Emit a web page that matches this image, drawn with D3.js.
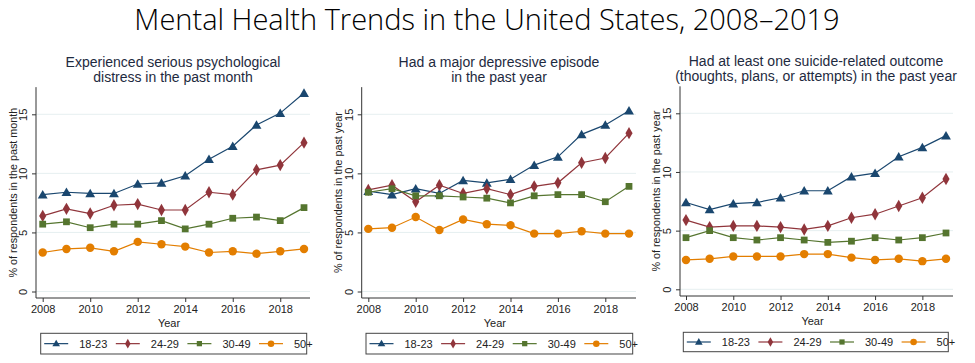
<!DOCTYPE html>
<html>
<head>
<meta charset="utf-8">
<script src="https://cdn.jsdelivr.net/npm/d3@7"></script>
<style>
  body { margin: 0; background: #fff; }
  text { font-family: "Liberation Sans", Arial, sans-serif; }
</style>
</head>
<body>
<div id="chart"></div>
<script>
// data
const years = [2008, 2009, 2010, 2011, 2012, 2013, 2014, 2015, 2016, 2017, 2018, 2019];
const groups = ["18-23", "24-29", "30-49", "50+"];
const yTicks = [0, 5, 10, 15];
const xTicks = [2008, 2010, 2012, 2014, 2016, 2018];

const distress = [
  [8.2, 8.4, 8.3, 8.3, 9.1, 9.2, 9.8, 11.2, 12.3, 14.1, 15.1, 16.8],
  [6.4, 7.0, 6.6, 7.3, 7.4, 6.9, 6.9, 8.4, 8.2, 10.3, 10.7, 12.6],
  [5.7, 5.9, 5.4, 5.7, 5.7, 6.0, 5.3, 5.7, 6.2, 6.3, 6.0, 7.1],
  [3.3, 3.6, 3.7, 3.4, 4.2, 4.0, 3.8, 3.3, 3.4, 3.2, 3.4, 3.6]
];
const depressive = [
  [8.5, 8.2, 8.7, 8.3, 9.4, 9.2, 9.5, 10.7, 11.4, 13.3, 14.1, 15.3],
  [8.6, 9.0, 7.6, 9.0, 8.3, 8.7, 8.2, 8.9, 9.2, 10.9, 11.3, 13.4],
  [8.4, 8.7, 8.1, 8.1, 8.0, 7.9, 7.5, 8.1, 8.2, 8.2, 7.6, 8.9],
  [5.3, 5.4, 6.3, 5.2, 6.1, 5.7, 5.6, 4.9, 4.9, 5.1, 4.9, 4.9]
];
const suicide = [
  [7.4, 6.8, 7.3, 7.4, 7.8, 8.4, 8.4, 9.6, 9.9, 11.3, 12.1, 13.1],
  [5.9, 5.3, 5.4, 5.4, 5.3, 5.1, 5.4, 6.1, 6.4, 7.1, 7.8, 9.4],
  [4.4, 5.0, 4.4, 4.2, 4.4, 4.2, 4.0, 4.1, 4.4, 4.2, 4.4, 4.8],
  [2.5, 2.6, 2.8, 2.8, 2.8, 3.0, 3.0, 2.7, 2.5, 2.6, 2.4, 2.6]
];

const colors = ["#1a476f", "#90353b", "#55752f", "#e37e00"];
const symbols = [d3.symbolTriangle, d3.symbolDiamond, d3.symbolSquare, d3.symbolCircle];
const symSize = [42, 44, 46, 56];

const panels = [
  {title: ["Experienced serious psychological", "distress in the past month"],
   ylab: "% of respondents in the past month", values: distress,
   ax: 36, x0: 42.7, x1: 304, right: 310, y0: 291.5, y15: 114.3, bottom: 298,
   tx: 173, ty: 62, lab: 13, leg: [40.7, 333.3, 266, 20.7], tickY: 313, yearY: 327},
  {title: ["Had a major depressive episode", "in the past year"],
   ylab: "% of respondents in the past year", values: depressive,
   ax: 361.7, x0: 368.3, x1: 629, right: 636, y0: 291.5, y15: 114.3, bottom: 298,
   tx: 499, ty: 62, lab: 338, leg: [366, 333.3, 266.7, 20.7], tickY: 313, yearY: 327},
  {title: ["Had at least one suicide-related outcome", "(thoughts, plans, or attempts) in the past year"],
   ylab: "% of respondents in the past year", values: suicide,
   ax: 680, x0: 686, x1: 946, right: 953, y0: 289.3, y15: 113.3, bottom: 296,
   tx: 816, ty: 61, lab: 656, leg: [683.3, 332.3, 265, 19.4], tickY: 311, yearY: 325}
];

const svg = d3.select("#chart").append("svg")
  .attr("width", 975)
  .attr("height", 363);

svg.append("text")
  .attr("x", 487)
  .attr("y", 30)
  .attr("text-anchor", "middle")
  .style("font-family", "'Open Sans', 'Noto Sans', sans-serif")
  .style("font-weight", 300)
  .style("font-size", "29px")
  .attr("fill", "#000")
  .text("Mental Health Trends in the United States, 2008\u20132019");

panels.forEach(p => {
  const g = svg.append("g");
  const yMaxVal = 17.3;
  const x = d3.scaleLinear().domain([2008, 2019]).range([p.x0, p.x1]);
  const y = d3.scaleLinear().domain([0, 15]).range([p.y0, p.y15]);
  const yTop = y(yMaxVal);

  // gridlines
  g.selectAll(".grid")
    .data(yTicks)
    .enter()
    .append("line")
    .attr("x1", p.ax)
    .attr("x2", p.right)
    .attr("y1", d => y(d))
    .attr("y2", d => y(d))
    .attr("stroke", "#e6eff0")
    .attr("stroke-width", 1);

  // y axis
  const yAxis = g.append("g")
    .attr("transform", `translate(${p.ax},0)`)
    .call(d3.axisLeft(y).tickValues(yTicks).tickSize(4).tickSizeOuter(0).tickFormat(d3.format("d")));
  yAxis.select(".domain").attr("d", `M0,${yTop}V${p.bottom}`).attr("stroke", "#333");
  yAxis.selectAll(".tick line").attr("stroke", "#333");
  yAxis.selectAll(".tick text")
    .attr("x", 0).attr("dy", 0)
    .attr("transform", "translate(-9,0) rotate(-90)")
    .attr("text-anchor", "middle")
    .attr("fill", "#222")
    .style("font-size", "11px");

  // x axis
  const xAxis = g.append("g")
    .attr("transform", `translate(0,${p.bottom})`)
    .call(d3.axisBottom(x).tickValues(xTicks).tickSize(4).tickSizeOuter(0).tickFormat(d3.format("d")));
  xAxis.select(".domain").attr("d", `M${p.ax},0H${p.right}`).attr("stroke", "#333");
  xAxis.selectAll(".tick line").attr("stroke", "#333");
  xAxis.selectAll(".tick text")
    .attr("y", p.tickY - p.bottom).attr("dy", 0)
    .attr("fill", "#222")
    .style("font-size", "11px");

  g.append("text")
    .attr("x", (p.ax + p.right) / 2 - 4)
    .attr("y", p.yearY)
    .attr("text-anchor", "middle")
    .attr("fill", "#222")
    .style("font-size", "11px")
    .text("Year");

  g.append("text")
    .attr("transform", `translate(${p.lab + 4},${(yTop + p.bottom) / 2}) rotate(-90)`)
    .attr("text-anchor", "middle")
    .attr("fill", "#222")
    .style("font-size", "10.8px")
    .text(p.ylab);

  // panel title
  g.selectAll(".ptitle")
    .data(p.title)
    .enter()
    .append("text")
    .attr("x", p.tx)
    .attr("y", (d, i) => p.ty + 5 + i * 14.5)
    .attr("text-anchor", "middle")
    .attr("fill", "#1e2a40")
    .style("font-size", "14px")
    .text(d => d);

  // series
  const line = d3.line().x((d, i) => x(years[i])).y(d => y(d));
  p.values.forEach((vals, k) => {
    g.append("path")
      .datum(vals)
      .attr("d", line)
      .attr("fill", "none")
      .attr("stroke", colors[k])
      .attr("stroke-width", 1.2);
    g.selectAll(".m" + k)
      .data(vals)
      .enter()
      .append("path")
      .attr("transform", (d, i) => `translate(${x(years[i])},${y(d) + (k === 0 ? 1 : 0)})`)
      .attr("d", d3.symbol().type(symbols[k]).size(symSize[k]))
      .attr("fill", colors[k]);
  });

  // legend
  const [lx, ly, lw, lh] = p.leg;
  const leg = g.append("g").attr("transform", `translate(${lx},${ly})`);
  const items = leg.selectAll(".item")
    .data(groups)
    .enter()
    .append("g")
    .attr("transform", (d, i) => `translate(${3.5 + i * 71.6},${lh / 2})`);
  items.append("line")
    .attr("x1", 0).attr("x2", 24)
    .attr("stroke", (d, i) => colors[i])
    .attr("stroke-width", 1.2);
  items.append("path")
    .attr("transform", (d, i) => `translate(12,${i === 0 ? 0.5 : 0})`)
    .attr("d", (d, i) => d3.symbol().type(symbols[i]).size(symSize[i] * 0.6)())
    .attr("fill", (d, i) => colors[i]);
  items.append("text")
    .attr("x", 35)
    .attr("y", 4)
    .attr("fill", "#222")
    .style("font-size", "11px")
    .text(d => d);
  leg.append("rect")
    .attr("width", lw)
    .attr("height", lh)
    .attr("fill", "none")
    .attr("stroke", "#444")
    .attr("stroke-width", 1);
});
</script>
</body>
</html>
